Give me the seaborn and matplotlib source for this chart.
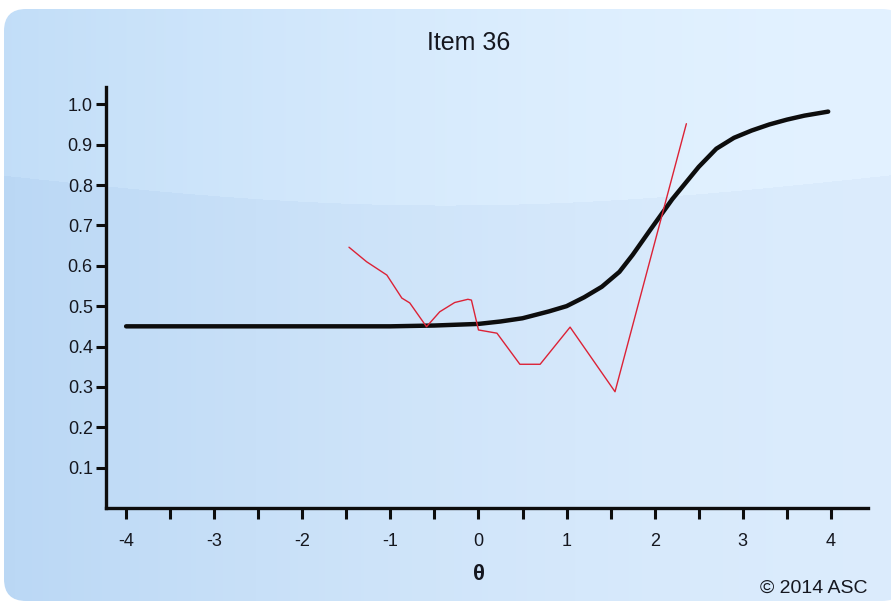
import numpy as np
import pandas as pd
import matplotlib
matplotlib.use("Agg")
import matplotlib.pyplot as plt
from matplotlib.patches import FancyBboxPatch
import seaborn as sns

theta_model = [-4.0, -3.0, -2.0, -1.0, -0.5, 0.0, 0.25, 0.5, 0.8, 1.0, 1.2, 1.4,
               1.6, 1.75, 1.95, 2.2, 2.5, 2.7, 2.9, 3.1, 3.3, 3.5, 3.7, 3.97]
p_model = [0.45, 0.45, 0.45, 0.45, 0.452, 0.456, 0.462, 0.47, 0.487, 0.50, 0.522, 0.548,
           0.585, 0.627, 0.689, 0.765, 0.845, 0.89, 0.917, 0.935, 0.95, 0.962, 0.972, 0.982]

theta_obs = [-1.47, -1.27, -1.04, -0.87, -0.78, -0.59, -0.44, -0.27, -0.12, -0.08,
             0.0, 0.21, 0.47, 0.70, 1.04, 1.55, 2.36]
p_obs = [0.646, 0.61, 0.577, 0.52, 0.508, 0.449, 0.486, 0.509, 0.517, 0.515,
         0.441, 0.433, 0.356, 0.356, 0.448, 0.288, 0.952]

x_ticks = [-4, -3, -2, -1, 0, 1, 2, 3, 4]
y_ticks = [0.1, 0.2, 0.3, 0.4, 0.5, 0.6, 0.7, 0.8, 0.9, 1.0]

model = pd.DataFrame({"theta": theta_model, "p": p_model})
obs = pd.DataFrame({"theta": theta_obs, "p": p_obs})

sns.set_theme(style="ticks")
plt.rcParams["font.family"] = ["Liberation Sans", "DejaVu Sans"]
text_col = "#15171f"

fig = plt.figure(figsize=(8.91, 6.04), dpi=100)
fig.patch.set_facecolor("white")

# Background panel with a soft blue gradient
bg = fig.add_axes([0, 0, 1, 1], zorder=-1)
bg.set_xlim(0, 891)
bg.set_ylim(604, 0)
bg.axis("off")
h, w = 604, 891
xx = np.linspace(0, 1, w)[None, :]
yy = np.linspace(0, 1, h)[:, None]
left = np.array([0.73, 0.845, 0.96])
right = np.array([0.86, 0.925, 0.99])
t = 1 - (1 - xx[..., None]) ** 1.6
grad = left[None, None, :] * (1 - t) + right[None, None, :] * t
gloss = np.where(yy < 0.29 + 0.05 * np.sin(np.pi * xx), 0.03, 0.0)
img = np.clip(grad + gloss[..., None] * np.array([1.0, 0.8, 0.4]), 0, 1)
im = bg.imshow(img, extent=[0, 891, 604, 0], aspect="auto")
panel = FancyBboxPatch((4, 9), 900, 592, boxstyle="round,pad=0,rounding_size=22",
                       transform=bg.transData, facecolor="none", edgecolor="none")
bg.add_patch(panel)
im.set_clip_path(panel)

ax = fig.add_axes([0.119, 0.159, 0.855, 0.697])
ax.set_facecolor("none")

sns.lineplot(data=model, x="theta", y="p", ax=ax, color="#0d0d0d", linewidth=3.2,
             estimator=None, sort=False)
sns.lineplot(data=obs, x="theta", y="p", ax=ax, color="#dc2236", linewidth=1.0,
             estimator=None, sort=False)

ax.set_xlim(-4.228, 4.42)
ax.set_ylim(0, 1.043)
ax.set_xticks(x_ticks)
ax.set_xticks(np.arange(-3.5, 4.0, 1.0), minor=True)
ax.set_xticklabels([str(t) for t in x_ticks])
ax.set_yticks(y_ticks)
ax.set_yticklabels([f"{v:.1f}" for v in y_ticks])

for side in ["top", "right"]:
    ax.spines[side].set_visible(False)
for side in ["left", "bottom"]:
    ax.spines[side].set_linewidth(2.4)
    ax.spines[side].set_color("#0d0d0d")

ax.tick_params(axis="x", which="both", direction="out", length=8, width=2.2,
               color="#0d0d0d", pad=10, labelsize=13, labelcolor=text_col)
ax.tick_params(axis="y", direction="out", length=7, width=2.2,
               color="#0d0d0d", pad=2.5, labelsize=13, labelcolor=text_col)

ax.set_xlabel("")
ax.set_ylabel("")

fig.text(0.526, 0.929, "Item 36", ha="center", va="center", fontsize=18, color=text_col)
fig.text(0.538, 0.049, "θ", ha="center", va="center", fontsize=16, fontweight="bold",
         color=text_col)
fig.text(0.974, 0.018, "© 2014 ASC", ha="right", va="baseline", fontsize=14, color=text_col)

fig.savefig("out.png", dpi=100)
